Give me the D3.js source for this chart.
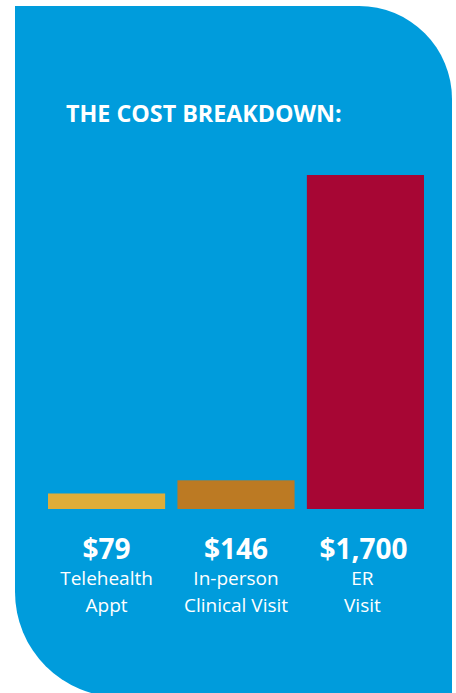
<!DOCTYPE html>
<html>
<head>
<meta charset="utf-8">
<script src="https://cdn.jsdelivr.net/npm/d3@7"></script>
<style>
  body { margin: 0; background: #fff; }
  svg { display: block; }
</style>
</head>
<body>
<script>
// chart data
const categories = ['Telehealth', 'In-person', 'ER'];
const values = [79, 146, 1700];
const valueLabels = ['$79', '$146', '$1,700'];
const subLabels = [['Telehealth', 'Appt'], ['In-person', 'Clinical Visit'], ['ER', 'Visit']];
const barColors = ['#DFAD38', '#BC7A23', '#A70634'];

const W = 456, H = 693;
const font = '"Open Sans", sans-serif';

const svg = d3.select('body').append('svg')
    .attr('width', W)
    .attr('height', H);

// blue card with rounded top-right and bottom-left corners
const cardL = 15, cardR = 452, cardT = 6, cardB = 697;
const rTR = 93, rBL = 105;
const card = d3.path();
card.moveTo(cardL, cardT);
card.lineTo(cardR - rTR, cardT);
card.arcTo(cardR, cardT, cardR, cardT + rTR, rTR);
card.lineTo(cardR, cardB);
card.lineTo(cardL + rBL, cardB);
card.arcTo(cardL, cardB, cardL, cardB - rBL, rBL);
card.closePath();
svg.append('path')
    .attr('d', card.toString())
    .attr('fill', '#009CDC');

// title
svg.append('text')
    .attr('x', 66)
    .attr('y', 122)
    .attr('fill', '#fff')
    .style('font-family', font)
    .style('font-weight', 'bold')
    .style('font-size', '23.3px')
    .text('THE COST BREAKDOWN:');

// scales
const x = d3.scaleBand()
    .domain(categories)
    .range([48, 424])
    .paddingInner(0.095);

const y = d3.scaleLinear()
    .domain([0, 1700])
    .range([509, 175]);

// bars
svg.append('g')
    .selectAll('rect')
    .data(categories)
    .join('rect')
    .attr('x', d => x(d))
    .attr('y', (d, i) => y(values[i]))
    .attr('width', x.bandwidth())
    .attr('height', (d, i) => y(0) - y(values[i]))
    .attr('fill', (d, i) => barColors[i]);

// value labels
svg.append('g')
    .selectAll('text')
    .data(categories)
    .join('text')
    .attr('x', (d, i) => x(d) + x.bandwidth() / 2 - (i === 2 ? 2 : 0))
    .attr('y', 559)
    .attr('text-anchor', 'middle')
    .attr('fill', '#fff')
    .style('font-family', font)
    .style('font-weight', 'bold')
    .style('font-size', '28px')
    .text((d, i) => valueLabels[i]);

// category labels, two lines each
const sub = svg.append('g')
    .selectAll('text')
    .data(categories)
    .join('text')
    .attr('text-anchor', 'middle')
    .attr('fill', '#fff')
    .style('font-family', font)
    .style('font-size', '19px');

sub.selectAll('tspan')
    .data((d, i) => subLabels[i].map(t => ({ t, c: d, i })))
    .join('tspan')
    .attr('x', d => x(d.c) + x.bandwidth() / 2 - (d.c === 'ER' ? 3 : 0))
    .attr('y', (d, j) => 585 + j * 27)
    .text(d => d.t);
</script>
</body>
</html>
